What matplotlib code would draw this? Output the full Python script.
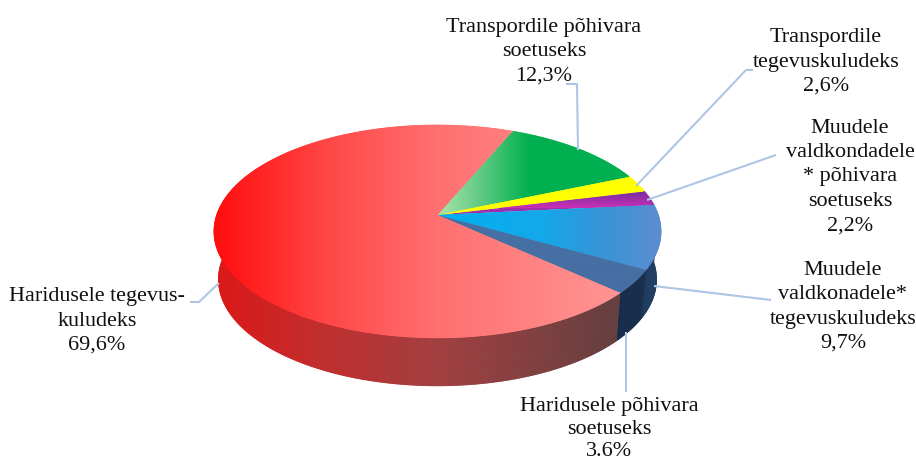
import numpy as np
import matplotlib
matplotlib.use("Agg")
import matplotlib.pyplot as plt
from matplotlib.patches import Polygon
from matplotlib.collections import LineCollection
from matplotlib.colors import LinearSegmentedColormap as LSC

plt.rcParams['font.family'] = ['Liberation Serif', 'DejaVu Serif']

labels = ["Transpordile põhivara\nsoetuseks\n12,3%",
          "Transpordile\ntegevuskuludeks\n2,6%",
          "Muudele\nvaldkondadele\n* põhivara\nsoetuseks\n2,2%",
          "Muudele\nvaldkonadele*\ntegevuskuludeks\n9,7%",
          "Haridusele põhivara\nsoetuseks\n3.6%",
          "Haridusele tegevus-\nkuludeks\n69,6%"]
values = [12.3, 2.6, 2.2, 9.7, 3.6, 69.6]
label_xy = [(544, 52), (826, 62), (850, 177), (843, 307), (609, 429), (97, 321)]
label_spacing = [1.38, 1.38, 1.38, 1.38, 1.27, 1.38]

X0, X1 = 200, 680
top_grad = [
    ([438, 470, 530], ['#ABE5AB', '#74D08F', '#00B050']),
    ([438], ['#FFFF00']),
    ([438], ['#A02FAC']),
    ([438, 545, 600, 660], ['#00B0F0', '#14A8EA', '#3595D8', '#5B8DD0']),
    ([438], ['#466FA3']),
    ([213, 330, 438, 620], ['#FF0D0D', '#FF4848', '#FF7070', '#FF9494']),
]
side_grad = [None, None, None,
             ([620, 660], ['#1E3A5E', '#223F64']),
             ([600, 640], ['#182D4B', '#1A2F4E']),
             ([215, 330, 440, 612], ['#DC1818', '#BF3030', '#A24042', '#66403F'])]
leaders = [[(578, 150), (577, 84), (566, 84)],
           [(636, 186), (746, 70), (753, 70)],
           [(647, 200), (776, 155)],
           [(654, 286), (771, 300)],
           [(626, 332), (626, 392)],
           [(219, 283), (199, 302), (190, 302)]]

W, H = 916, 462
fig = plt.figure(figsize=(W / 100, H / 100), dpi=100)
ax = fig.add_axes([0, 0, 1, 1])

CX, CY, A, B, K = 437.5, 215.0, 220.5, 103.5, 0.155
DEPTH, SHR = 48.0, 0.98
START = 67.2


def rim(deg):
    t = np.radians(deg)
    u, v = np.cos(t), np.sin(t)
    d = 1 + K * v
    return CX + A * u / d, CY - B * v / d


def lower(x, y):
    return CX + (x - CX) * SHR, y + DEPTH


def make_cmap(stops):
    xs, cols = stops
    pos = [X0] + list(xs) + [X1]
    c = [cols[0]] + list(cols) + [cols[-1]]
    return LSC.from_list('g', [((x - X0) / (X1 - X0), k) for x, k in zip(pos, c)], N=512)


def fill_grad(stops, poly, z):
    cm = make_cmap(stops)
    g = np.linspace(0, 1, 960)[None, :]
    im = ax.imshow(g, extent=(X0, X1, 400, 100), cmap=cm, aspect='auto', zorder=z,
                   interpolation='bilinear', vmin=0, vmax=1)
    p = Polygon(poly, closed=True, fc='none', ec='none')
    ax.add_patch(p)
    im.set_clip_path(p)
    return cm


def edge_line(x, y, cm, z, lw=1.0):
    pts = np.c_[x, y]
    segs = np.stack([pts[:-1], pts[1:]], axis=1)
    xm = (x[:-1] + x[1:]) / 2
    ax.add_collection(LineCollection(segs, colors=cm((xm - X0) / (X1 - X0)), linewidths=lw,
                                     zorder=z, capstyle='round'))


edges = []
cum = START
for v in values:
    edges.append((cum, cum - v * 3.6))
    cum -= v * 3.6

# side wall: only the part of the rim facing the viewer
side_span = {3: (0.0, edges[3][1]), 4: edges[4], 5: (edges[5][0], -187.0)}
for i, (a0, a1) in side_span.items():
    ts = np.linspace(a0, a1, max(6, int(abs(a0 - a1) * 3)))
    xs, ys = rim(ts)
    lx, ly = lower(xs, ys)
    poly = np.r_[np.c_[xs, ys], np.c_[lx, ly][::-1]]
    cm = fill_grad(side_grad[i], poly, 2)
    edge_line(lx, ly, cm, 2.1)
    if i in (3, 5):
        edge_line(np.r_[xs[-1], lx[-1]], np.r_[ys[-1], ly[-1]], cm, 2.1)
    edge_line(np.r_[xs[0], lx[0]], np.r_[ys[0], ly[0]], cm, 2.1, 0.8)

# top face
for i, (a0, a1) in enumerate(edges):
    ts = np.linspace(a0, a1, max(6, int(abs(a0 - a1) * 3)))
    xs, ys = rim(ts)
    poly = np.r_[[(CX, CY)], np.c_[xs, ys]]
    cm = make_cmap(top_grad[i])
    # solid underlay closes anti-aliasing seams between slices
    ax.add_patch(Polygon(poly, closed=True, fc=cm(0.6), ec='none', zorder=2.9))
    if i == 2:
        c = LSC.from_list('p', ['#702FA0', '#CC2FB4'])
        g = np.linspace(0, 1, 64)[:, None]
        im = ax.imshow(g, extent=(X0, X1, ys.max() + 3, ys.min()), cmap=c, aspect='auto', zorder=3)
        p = Polygon(poly, closed=True, fc='none', ec='none')
        ax.add_patch(p)
        im.set_clip_path(p)
        ax.plot(xs, ys, color='#9030A8', lw=1, zorder=3.1)
    else:
        fill_grad(top_grad[i], poly, 3)
        edge_line(xs, ys, cm, 3.1)

ax.set_xlim(0, W); ax.set_ylim(H, 0); ax.axis('off')

for pts in leaders:
    a = np.array(pts)
    ax.plot(a[:, 0], a[:, 1], color='#AEC6E4', lw=1.5, zorder=4, solid_capstyle='butt')

for s, (x, y), sp in zip(labels, label_xy, label_spacing):
    ax.text(x, y, s, ha='center', va='center', fontsize=15.9, color='#101010',
            linespacing=sp, zorder=5)

fig.savefig('out.png', dpi=100, facecolor='white')
